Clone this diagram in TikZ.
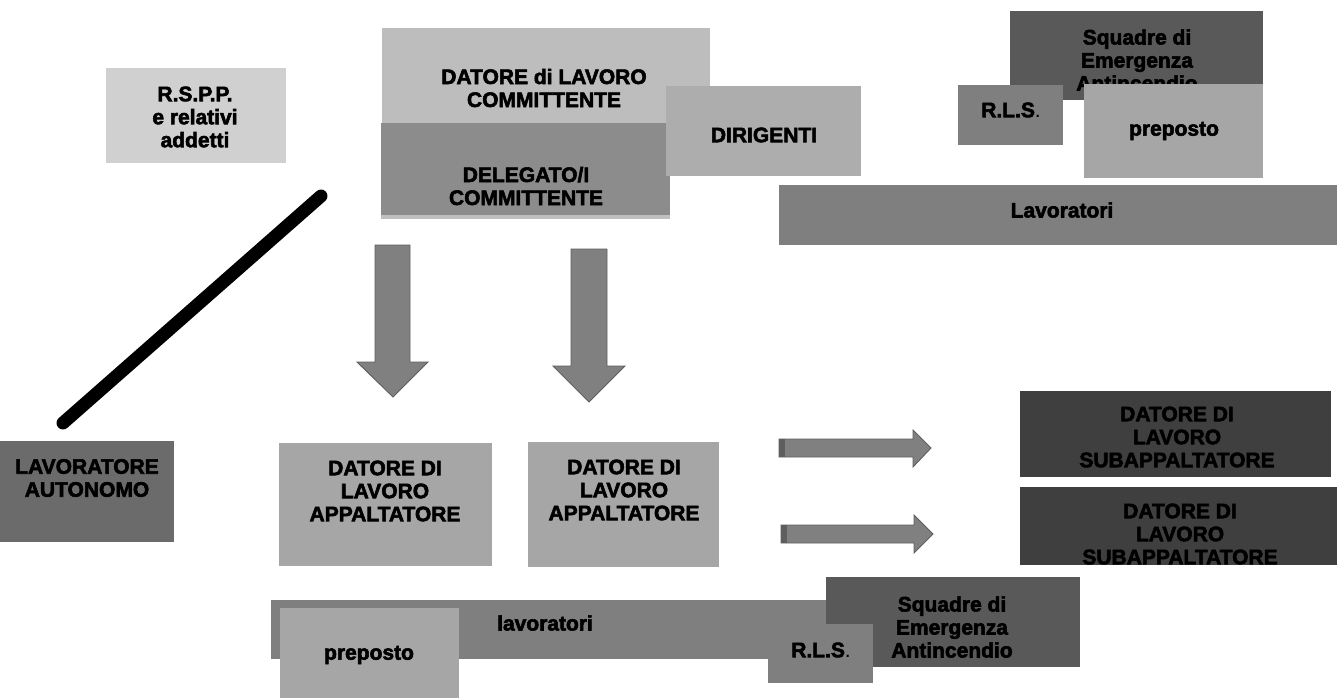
\documentclass[tikz,border=0pt]{standalone}
\usepackage{fontspec}
\setmainfont{Liberation Sans}[BoldFeatures={FakeBold=2.6}]
\usetikzlibrary{shadows}
\definecolor{cRspp}{HTML}{D0D0D0}
\definecolor{cDatore}{HTML}{BDBDBD}
\definecolor{cDeleg}{HTML}{8C8C8C}
\definecolor{cDirig}{HTML}{ADADAD}
\definecolor{cSquad}{HTML}{595959}
\definecolor{cRls}{HTML}{7F7F7F}
\definecolor{cPrep}{HTML}{A6A6A6}
\definecolor{cLav}{HTML}{7F7F7F}
\definecolor{cAuto}{HTML}{6B6B6B}
\definecolor{cAppal}{HTML}{A6A6A6}
\definecolor{cSub}{HTML}{3F3F3F}
\definecolor{cArrow}{HTML}{808080}
\definecolor{cArrowEdge}{HTML}{5E5E5E}
\begin{document}
\begin{tikzpicture}[x=1pt,y=-1pt,
  box/.style={rectangle, inner sep=0pt, outer sep=0pt, anchor=north west, draw=none},
  lbl/.style={inner sep=0pt, outer sep=0pt, align=center, text=black,
              font=\fontsize{21}{23}\selectfont\bfseries},
  blockarrow/.style={fill=cArrow, draw=cArrowEdge, line width=0.9pt, line join=miter},
  heavyline/.style={line width=13pt, line cap=round, draw=black}
]
\useasboundingbox (0,0) rectangle (1337,698);

% ---------- top left ----------
\node[box, fill=cRspp, minimum width=180pt, minimum height=95pt] (rspp) at (106,68) {};
\node[lbl] (rsppT) at (195,117) {R.S.P.P.\\e relativi\\addetti};

\node[box, fill=cDatore, minimum width=328pt, minimum height=95pt] (datore) at (382,28) {};
\node[lbl] (datoreT) at (544,88) {DATORE di LAVORO\\COMMITTENTE};

\node[box, fill=cDeleg, minimum width=289pt, minimum height=92pt,
      drop shadow={shadow xshift=0pt, shadow yshift=-4pt, opacity=0.25, fill=black}] (deleg) at (381,123) {};
\node[lbl] (delegT) at (526,186) {DELEGATO/I\\COMMITTENTE};

\node[box, fill=cDirig, minimum width=195pt, minimum height=90pt] (dirig) at (666,86) {};
\node[lbl] (dirigT) at (764,135) {DIRIGENTI};

% ---------- top right ----------
\node[box, fill=cSquad, minimum width=253pt, minimum height=89pt] (squadTop) at (1010,11) {};
\node[lbl] (squadTopT) at (1137,60) {Squadre di\\Emergenza\\Antincendio};

\node[box, fill=cRls, minimum width=105pt, minimum height=60pt] (rlsTop) at (958,85) {};
\node[lbl] (rlsTopT) at (1011,110) {R.L.S{\mdseries .}};

\node[box, fill=cPrep, minimum width=179pt, minimum height=94pt] (prepTop) at (1084,84) {};
\node[lbl] (prepTopT) at (1174,131) {preposto};

\node[box, fill=cLav, minimum width=558pt, minimum height=60pt] (lavTop) at (779,185) {};
\node[lbl] (lavTopT) at (1062,210) {Lavoratori};

% ---------- diagonal line ----------
\coordinate (lineA) at (321,196);
\coordinate (lineB) at (63,423);
\draw[heavyline] (lineA) -- (lineB);

% ---------- down arrows ----------
\draw[blockarrow] (375,245) -- (410,245) -- (410,362) -- (428,362) -- (393,397)
   -- (357,362) -- (375,362) -- cycle;
\draw[blockarrow] (571,249) -- (607,249) -- (607,366) -- (625,366) -- (589,402)
   -- (553,366) -- (571,366) -- cycle;

% ---------- bottom left ----------
\node[box, fill=cAuto, minimum width=174pt, minimum height=101pt] (auto) at (0,441) {};
\node[lbl] (autoT) at (87,478) {LAVORATORE\\AUTONOMO};

\node[box, fill=cAppal, minimum width=213pt, minimum height=123pt] (appal1) at (279,443) {};
\node[lbl] (appal1T) at (385,491) {DATORE DI\\LAVORO\\APPALTATORE};

\node[box, fill=cAppal, minimum width=191pt, minimum height=125pt] (appal2) at (528,442) {};
\node[lbl] (appal2T) at (624,490) {DATORE DI\\LAVORO\\APPALTATORE};

% ---------- right arrows ----------
\draw[blockarrow] (779,439) -- (913,439) -- (913,430) -- (931,448) -- (913,467)
   -- (913,457) -- (779,457) -- cycle;
\fill[cArrowEdge] (779,439) rectangle (785,457);
\draw[blockarrow] (781,525) -- (914,525) -- (914,515) -- (933,534) -- (914,553)
   -- (914,543) -- (781,543) -- cycle;
\fill[cArrowEdge] (781,525) rectangle (787,543);

% ---------- subcontractors ----------
\node[box, fill=cSub, minimum width=311pt, minimum height=86pt] (sub1) at (1020,391) {};
\node[lbl] (sub1T) at (1177,437) {DATORE DI\\LAVORO\\SUBAPPALTATORE};

\node[box, fill=cSub, minimum width=317pt, minimum height=78pt] (sub2) at (1020,487) {};
\begin{scope}
  \clip (1020,487) rectangle (1337,565);
  \node[lbl] (sub2T) at (1180,534) {DATORE DI\\LAVORO\\SUBAPPALTATORE};
\end{scope}

% ---------- bottom band ----------
\node[box, fill=cLav, minimum width=560pt, minimum height=59pt] (lavBot) at (271,600) {};
\node[lbl] (lavBotT) at (545,623) {lavoratori};

\node[box, fill=cPrep, minimum width=179pt, minimum height=90pt] (prepBot) at (280,608) {};
\node[lbl] (prepBotT) at (369,655) {preposto};

\node[box, fill=cSquad, minimum width=254pt, minimum height=90pt] (squadBot) at (826,577) {};
\node[lbl] (squadBotT) at (952,627) {Squadre di\\Emergenza\\Antincendio};

\node[box, fill=cRls, minimum width=105pt, minimum height=59pt] (rlsBot) at (768,624) {};
\node[lbl] (rlsBotT) at (821,650) {R.L.S{\mdseries .}};
\end{tikzpicture}
\end{document}
